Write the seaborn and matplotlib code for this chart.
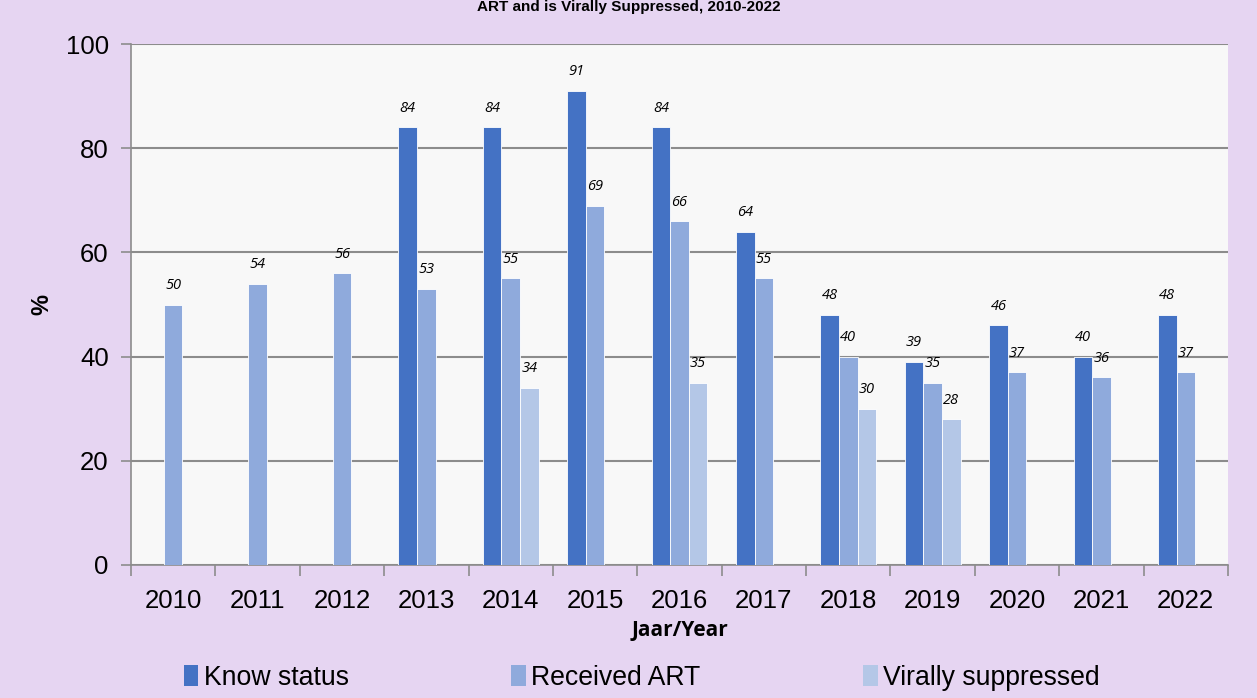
import pandas as pd
import numpy as np
import seaborn as sns
import matplotlib.pyplot as plt
from matplotlib.patches import Patch

years = ['2010', '2011', '2012', '2013', '2014', '2015', '2016',
         '2017', '2018', '2019', '2020', '2021', '2022']
know_status = [np.nan, np.nan, np.nan, 84, 84, 91, 84, 64, 48, 39, 46, 40, 48]
received_art = [50, 54, 56, 53, 55, 69, 66, 55, 40, 35, 37, 36, 37]
virally_suppressed = [np.nan, np.nan, np.nan, np.nan, 34, np.nan, 35, np.nan, 30, 28, np.nan, np.nan, np.nan]
series_names = ['Know status', 'Received ART', 'Virally suppressed']
colors = ['#4472C4', '#8FAADC', '#B4C7E7']

df = pd.DataFrame({'Year': years * 3,
                   'Series': np.repeat(series_names, len(years)),
                   'Value': know_status + received_art + virally_suppressed})

sns.set_theme(style='white')
plt.rcParams['font.family'] = ['Liberation Sans', 'DejaVu Sans']
plt.rcParams['text.color'] = 'black'
plt.rcParams['axes.labelcolor'] = 'black'

bg = '#E6D5F2'
fig = plt.figure(figsize=(12.57, 6.98), dpi=100, facecolor=bg)
ax = fig.add_axes([131 / 1257, 133 / 698, 1097 / 1257, 521 / 698])
ax.set_facecolor('#F8F8F8')

sns.barplot(data=df, x='Year', y='Value', hue='Series', hue_order=series_names,
            palette=colors, saturation=1, width=0.66, edgecolor='white',
            linewidth=0.6, ax=ax, legend=False, zorder=3)

# data labels
for cont in ax.containers:
    for bar in cont:
        h = bar.get_height()
        if np.isnan(h):
            continue
        ax.text(bar.get_x() + bar.get_width() / 2, h + 2.2, f'{int(h)}',
                ha='center', va='bottom', fontsize=10.5, style='italic',
                family='Open Sans', color='black', zorder=4)

ax.set_ylim(0, 100)
ax.set_xlim(-0.5, len(years) - 0.5)
ax.set_yticks(range(0, 101, 20))
ax.yaxis.grid(True, color='#8C8C8C', linewidth=1.5, zorder=0)
ax.set_axisbelow(True)
for s in ['top', 'right']:
    ax.spines[s].set_visible(False)
for s in ['left', 'bottom']:
    ax.spines[s].set_color('#8C8C8C')
    ax.spines[s].set_linewidth(1.2)

ax.tick_params(axis='y', which='major', left=True, length=7, width=1.2,
               color='#8C8C8C', labelcolor='black', labelsize=18.5, pad=9)
ax.tick_params(axis='x', which='major', bottom=False, labelcolor='black',
               labelsize=18.5, pad=11)
ax.set_xticks(np.arange(-0.5, len(years)), minor=True)
ax.tick_params(axis='x', which='minor', bottom=True, length=8, width=1.2,
               color='#8C8C8C')

ax.set_xlabel('Jaar/Year', fontsize=15, fontweight='bold', family='Open Sans',
              labelpad=5)
ax.set_ylabel('%', fontsize=17, fontweight='bold', labelpad=9)

handles = [Patch(facecolor=c, edgecolor='none') for c in colors]
fig.legend(handles, series_names, loc='lower left', bbox_to_anchor=(0.127, -0.024),
           ncol=3, frameon=False, fontsize=19.2, handlelength=0.55, handleheight=0.8,
           handletextpad=0.2, columnspacing=6.1)

fig.text(0.5, 1.0, 'ART and is Virally Suppressed, 2010-2022', ha='center',
         va='top', fontsize=11, fontweight='bold')

fig.savefig('out.png', dpi=100, facecolor=bg)
